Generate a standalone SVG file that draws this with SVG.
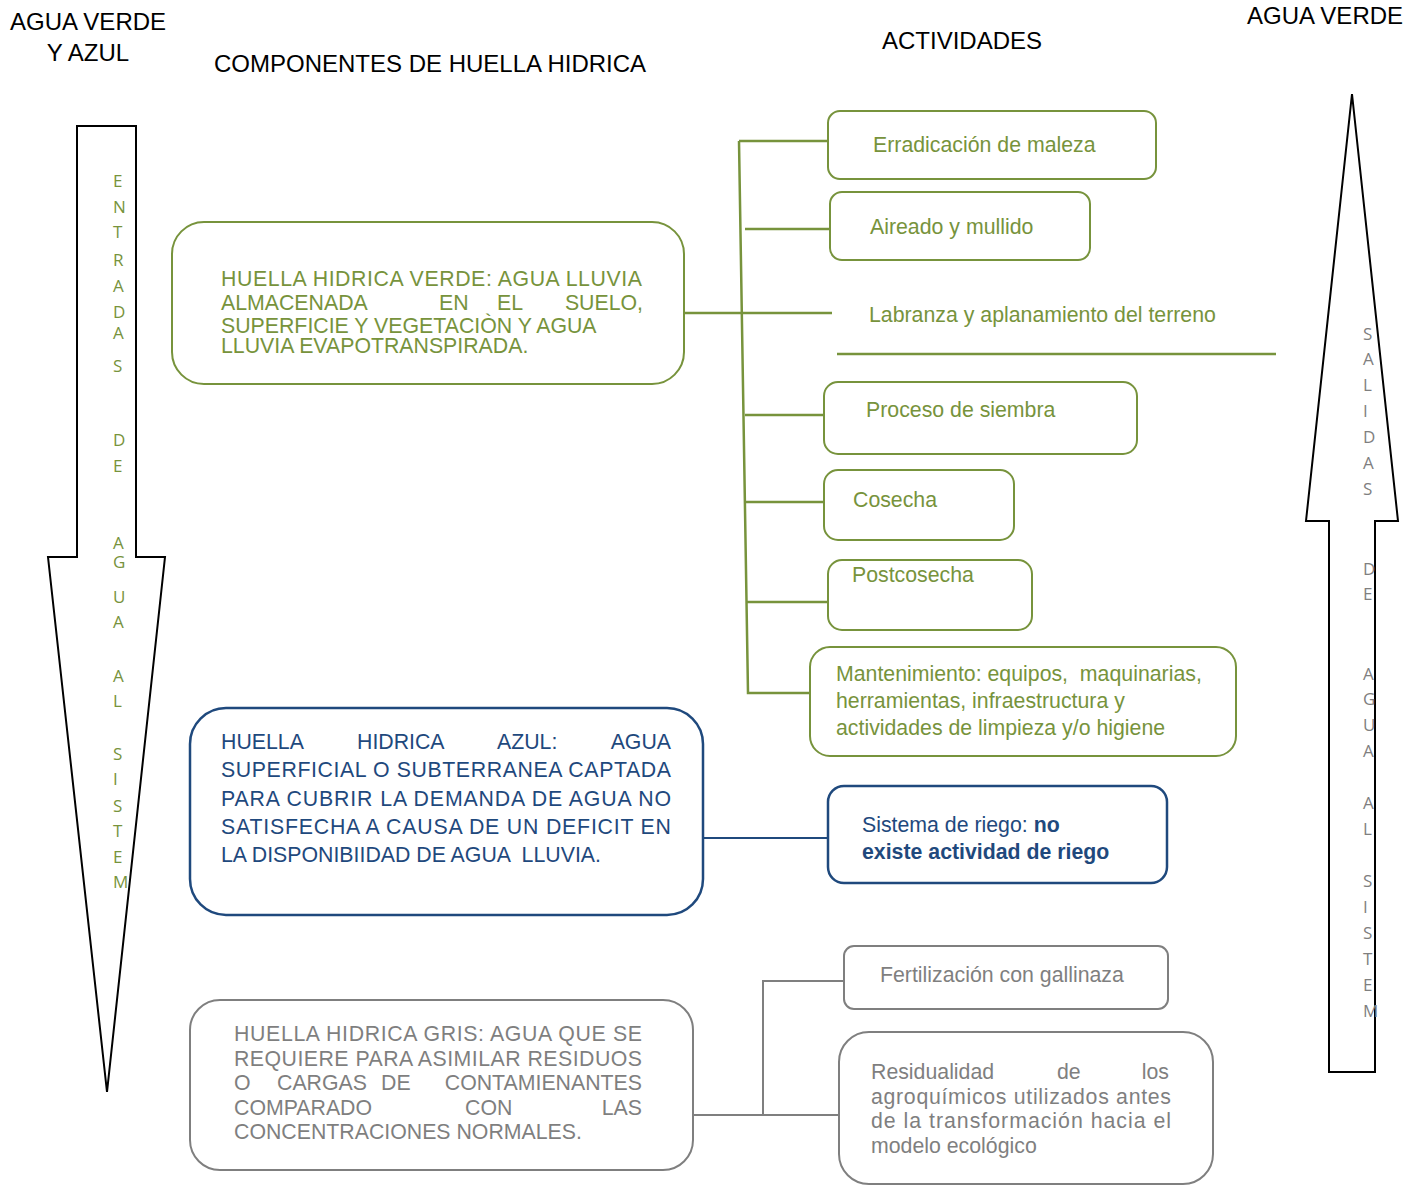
<svg xmlns="http://www.w3.org/2000/svg" width="1421" height="1186" viewBox="0 0 1421 1186">
<style>
text{font-family:"Liberation Sans",Arial,sans-serif;white-space:pre}
.t{font-size:24px;fill:#000}
.g{font-size:21.3px;fill:#77933C}
.b{font-size:21.3px;fill:#1F497D}
.y{font-size:21.3px;fill:#7F7F7F}
.bold{font-weight:bold}
.gbox{fill:#fff;stroke:#77933C;stroke-width:2}
.bbox{fill:#fff;stroke:#1F497D;stroke-width:2.5}
.ybox{fill:#fff;stroke:#7F7F7F;stroke-width:2}
.arrow{fill:#fff;stroke:#000;stroke-width:2}
.la{font-family:"Open Sans","Noto Sans",sans-serif;font-size:17px;fill:#77933C}
.ra{font-family:"Open Sans","Noto Sans",sans-serif;font-size:17px;fill:#7F7F7F}
.cg{stroke:#77933C;stroke-width:2.5;fill:none}
.cb{stroke:#1F497D;stroke-width:2;fill:none}
.cy{stroke:#7F7F7F;stroke-width:2;fill:none}
</style>

<g id="titles">
<text class="t" x="10" y="30">AGUA VERDE</text>
<text class="t" x="88" y="61" text-anchor="middle">Y AZUL</text>
<text class="t" x="214" y="72">COMPONENTES DE HUELLA HIDRICA</text>
<text class="t" x="882" y="49">ACTIVIDADES</text>
<text class="t" x="1247" y="24">AGUA VERDE</text>
</g>

<g id="arrow-entradas">
<path class="arrow" d="M77,126 L136,126 L136,557 L165,557 L107,1092 L48,557 L77,557 Z"/>
<text class="la" x="113" y="187">E</text>
<text class="la" x="113" y="213">N</text>
<text class="la" x="113" y="238">T</text>
<text class="la" x="113" y="266">R</text>
<text class="la" x="113" y="292">A</text>
<text class="la" x="113" y="318">D</text>
<text class="la" x="113" y="339">A</text>
<text class="la" x="113" y="372">S</text>
<text class="la" x="113" y="446">D</text>
<text class="la" x="113" y="472">E</text>
<text class="la" x="113" y="549">A</text>
<text class="la" x="113" y="568">G</text>
<text class="la" x="113" y="603">U</text>
<text class="la" x="113" y="628">A</text>
<text class="la" x="113" y="682">A</text>
<text class="la" x="113" y="707">L</text>
<text class="la" x="113" y="760">S</text>
<text class="la" x="113" y="785">I</text>
<text class="la" x="113" y="812">S</text>
<text class="la" x="113" y="837">T</text>
<text class="la" x="113" y="863">E</text>
<text class="la" x="113" y="888">M</text>
</g>

<g id="arrow-salidas">
<path class="arrow" d="M1352,94 L1398,521 L1375,521 L1375,1072 L1329,1072 L1329,521 L1306,521 Z"/>
<text class="ra" x="1363" y="340">S</text>
<text class="ra" x="1363" y="365">A</text>
<text class="ra" x="1363" y="391">L</text>
<text class="ra" x="1363" y="417">I</text>
<text class="ra" x="1363" y="443">D</text>
<text class="ra" x="1363" y="469">A</text>
<text class="ra" x="1363" y="495">S</text>
<text class="ra" x="1363" y="575">D</text>
<text class="ra" x="1363" y="600">E</text>
<text class="ra" x="1363" y="680">A</text>
<text class="ra" x="1363" y="705">G</text>
<text class="ra" x="1363" y="731">U</text>
<text class="ra" x="1363" y="757">A</text>
<text class="ra" x="1363" y="809">A</text>
<text class="ra" x="1363" y="835">L</text>
<text class="ra" x="1363" y="887">S</text>
<text class="ra" x="1363" y="913">I</text>
<text class="ra" x="1363" y="939">S</text>
<text class="ra" x="1363" y="965">T</text>
<text class="ra" x="1363" y="991">E</text>
<text class="ra" x="1363" y="1017">M</text>
</g>

<g id="connectors">
<path class="cg" d="M739,141 L828,141 M739,141 L748,693 L810,693 M745,229 L830,229 M681,313 L832,313 M837,354 L1276,354 M745,415 L824,415 M746,502 L824,502 M747,602 L828,602"/>
<path class="cb" d="M703,838 L828,838"/>
<path class="cy" d="M693,1115 L839,1115 M763,1115 L763,981 L844,981"/>
</g>

<g id="huella-verde">
<rect class="gbox" x="172" y="222" width="512" height="162" rx="32" stroke-width="2.5"/>
<text class="g" x="221" y="286" textLength="421" lengthAdjust="spacing">HUELLA HIDRICA VERDE: AGUA LLUVIA</text>
<text class="g" x="221" y="310">ALMACENADA</text>
<text class="g" x="439" y="310">EN</text>
<text class="g" x="497" y="310">EL</text>
<text class="g" x="643" y="310" text-anchor="end">SUELO,</text>
<text class="g" x="221" y="333">SUPERFICIE Y VEGETACIÒN Y AGUA</text>
<text class="g" x="221" y="353">LLUVIA EVAPOTRANSPIRADA.</text>
</g>

<g id="act-erradicacion">
<rect class="gbox" x="828" y="111" width="328" height="68" rx="12"/>
<text class="g" x="873" y="152">Erradicación de maleza</text>
</g>
<g id="act-aireado">
<rect class="gbox" x="830" y="192" width="260" height="68" rx="12"/>
<text class="g" x="870" y="234">Aireado y mullido</text>
</g>
<g id="act-labranza">
<text class="g" x="869" y="322">Labranza y aplanamiento del terreno</text>
</g>
<g id="act-siembra">
<rect class="gbox" x="824" y="382" width="313" height="72" rx="14"/>
<text class="g" x="866" y="417">Proceso de siembra</text>
</g>
<g id="act-cosecha">
<rect class="gbox" x="824" y="470" width="190" height="70" rx="14"/>
<text class="g" x="853" y="507">Cosecha</text>
</g>
<g id="act-postcosecha">
<rect class="gbox" x="828" y="560" width="204" height="70" rx="14"/>
<text class="g" x="852" y="582">Postcosecha</text>
</g>
<g id="act-mantenimiento">
<rect class="gbox" x="810" y="647" width="426" height="109" rx="20"/>
<text class="g" x="836" y="681">Mantenimiento: equipos,  maquinarias,</text>
<text class="g" x="836" y="708">herramientas, infraestructura y</text>
<text class="g" x="836" y="735">actividades de limpieza y/o higiene</text>
</g>

<g id="huella-azul">
<rect class="bbox" x="190" y="708" width="513" height="207" rx="36"/>
<text class="b" x="221" y="749">HUELLA</text>
<text class="b" x="357" y="749">HIDRICA</text>
<text class="b" x="497" y="749">AZUL:</text>
<text class="b" x="671" y="749" text-anchor="end">AGUA</text>
<text class="b" x="221" y="777" textLength="450" lengthAdjust="spacing">SUPERFICIAL O SUBTERRANEA CAPTADA</text>
<text class="b" x="221" y="806" textLength="450" lengthAdjust="spacing">PARA CUBRIR LA DEMANDA DE AGUA NO</text>
<text class="b" x="221" y="834" textLength="450" lengthAdjust="spacing">SATISFECHA A CAUSA DE UN DEFICIT EN</text>
<text class="b" x="221" y="862">LA DISPONIBIIDAD DE AGUA  LLUVIA.</text>
</g>

<g id="riego">
<rect class="bbox" x="828" y="786" width="339" height="97" rx="16" stroke-width="2"/>
<text class="b" x="862" y="832">Sistema de riego: <tspan class="bold">no</tspan></text>
<text class="b bold" x="862" y="859">existe actividad de riego</text>
</g>

<g id="huella-gris">
<rect class="ybox" x="190" y="1000" width="503" height="170" rx="30"/>
<text class="y" x="234" y="1041" textLength="408" lengthAdjust="spacing">HUELLA HIDRICA GRIS: AGUA QUE SE</text>
<text class="y" x="234" y="1066" textLength="408" lengthAdjust="spacing">REQUIERE PARA ASIMILAR RESIDUOS</text>
<text class="y" x="234" y="1090">O</text>
<text class="y" x="277" y="1090">CARGAS</text>
<text class="y" x="381" y="1090">DE</text>
<text class="y" x="642" y="1090" text-anchor="end">CONTAMIENANTES</text>
<text class="y" x="234" y="1115">COMPARADO</text>
<text class="y" x="465" y="1115">CON</text>
<text class="y" x="642" y="1115" text-anchor="end">LAS</text>
<text class="y" x="234" y="1139">CONCENTRACIONES NORMALES.</text>
</g>

<g id="fertilizacion">
<rect class="ybox" x="844" y="946" width="324" height="63" rx="10"/>
<text class="y" x="880" y="982">Fertilización con gallinaza</text>
</g>

<g id="residualidad">
<rect class="ybox" x="839" y="1032" width="374" height="152" rx="30"/>
<text class="y" x="871" y="1079">Residualidad</text>
<text class="y" x="1057" y="1079">de</text>
<text class="y" x="1169" y="1079" text-anchor="end">los</text>
<text class="y" x="871" y="1104" textLength="300" lengthAdjust="spacing">agroquímicos utilizados antes</text>
<text class="y" x="871" y="1128" textLength="300" lengthAdjust="spacing">de la transformación hacia el</text>
<text class="y" x="871" y="1153">modelo ecológico</text>
</g>
</svg>
